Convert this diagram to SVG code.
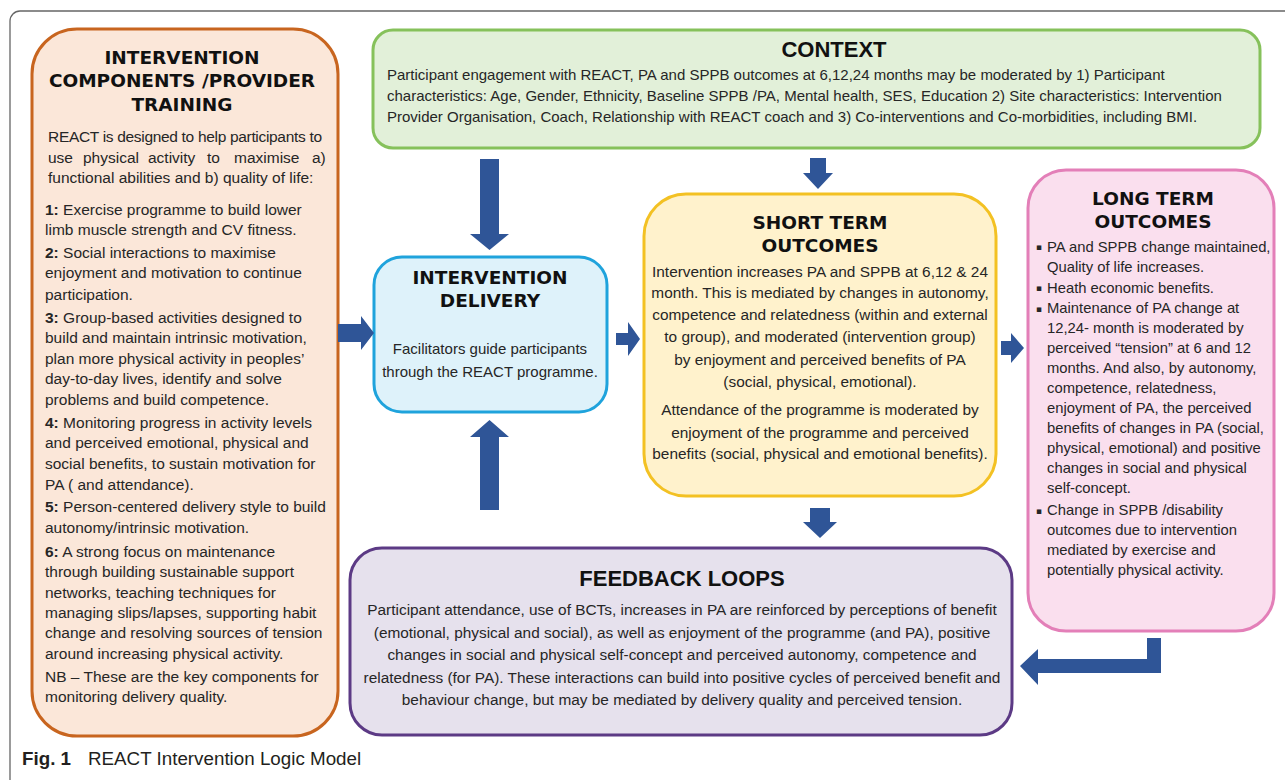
<svg xmlns="http://www.w3.org/2000/svg" width="1285" height="780" viewBox="0 0 1285 780">
<style>
.ttl{font-family:"DejaVu Sans",Verdana,sans-serif;font-weight:bold;font-size:18.5px;text-anchor:middle;fill:#111}
.ttl2{font-family:"Liberation Sans",Arial,sans-serif;font-weight:bold;font-size:22px;text-anchor:middle;fill:#111}
.b{font-family:"Liberation Sans",Arial,sans-serif;font-size:15.4px;fill:#262626}
.c{text-anchor:middle}
.bl{font-family:"DejaVu Sans",sans-serif;font-size:9px;fill:#262626}
.arr{fill:#2f5597}
.box{stroke-width:3}
</style>
<rect x="10" y="11" width="1300" height="800" rx="10" fill="#fff" stroke="#666" stroke-width="1.3"/>

<g id="components">
<rect class="box" x="32" y="29" width="306" height="707" rx="45" fill="#fbe7d9" stroke="#c8651f"/>
<text class="ttl" x="182" y="64">INTERVENTION</text>
<text class="ttl" x="182" y="87">COMPONENTS /PROVIDER</text>
<text class="ttl" x="182" y="111">TRAINING</text>
<g class="b" style="font-size:15.5px">
<text x="48" y="142" textLength="274" lengthAdjust="spacing">REACT is designed to help participants to</text>
<text y="163"><tspan x="48">use</tspan><tspan x="83">physical</tspan><tspan x="148">activity</tspan><tspan x="207">to</tspan><tspan x="234">maximise</tspan><tspan x="312">a)</tspan></text>
<text x="48" y="183">functional abilities and b) quality of life:</text>
<text x="45" y="215"><tspan font-weight="bold">1:</tspan> Exercise programme to build lower</text>
<text x="45" y="235">limb muscle strength and CV fitness.</text>
<text x="45" y="258"><tspan font-weight="bold">2:</tspan> Social interactions to maximise</text>
<text x="45" y="278">enjoyment and motivation to continue</text>
<text x="45" y="300">participation.</text>
<text x="45" y="323"><tspan font-weight="bold">3:</tspan> Group-based activities designed to</text>
<text x="45" y="343">build and maintain intrinsic motivation,</text>
<text x="45" y="364">plan more physical activity in peoples’</text>
<text x="45" y="384">day-to-day lives, identify and solve</text>
<text x="45" y="405">problems and build competence.</text>
<text x="45" y="428"><tspan font-weight="bold">4:</tspan> Monitoring progress in activity levels</text>
<text x="45" y="448">and perceived emotional, physical and</text>
<text x="45" y="469">social benefits, to sustain motivation for</text>
<text x="45" y="490">PA ( and attendance).</text>
<text x="45" y="512"><tspan font-weight="bold">5:</tspan> Person-centered delivery style to build</text>
<text x="45" y="533">autonomy/intrinsic motivation.</text>
<text x="45" y="557"><tspan font-weight="bold">6:</tspan> A strong focus on maintenance</text>
<text x="45" y="577">through building sustainable support</text>
<text x="45" y="598">networks, teaching techniques for</text>
<text x="45" y="618">managing slips/lapses, supporting habit</text>
<text x="45" y="638">change and resolving sources of tension</text>
<text x="45" y="659">around increasing physical activity.</text>
<text x="45" y="682">NB – These are the key components for</text>
<text x="45" y="702">monitoring delivery quality.</text>
</g>
</g>

<g id="context">
<rect class="box" x="373" y="30" width="887" height="118" rx="20" fill="#e2f0d9" stroke="#86c15b"/>
<text class="ttl2" x="834" y="57">CONTEXT</text>
<g class="b" style="font-size:15px">
<text x="387" y="80">Participant engagement with REACT, PA and SPPB outcomes at 6,12,24 months may be moderated by 1) Participant</text>
<text x="387" y="101">characteristics: Age, Gender, Ethnicity, Baseline SPPB /PA, Mental health, SES, Education 2) Site characteristics: Intervention</text>
<text x="387" y="122">Provider Organisation, Coach, Relationship with REACT coach and 3) Co-interventions and Co-morbidities, including BMI.</text>
</g>
</g>

<g id="delivery">
<rect class="box" x="374" y="257" width="233" height="155" rx="28" fill="#def2fa" stroke="#1fa3dc"/>
<text class="ttl" x="490" y="284">INTERVENTION</text>
<text class="ttl" x="490" y="307">DELIVERY</text>
<text class="b c" style="font-size:15px" x="490" y="354">Facilitators guide participants</text>
<text class="b c" style="font-size:15px" x="490" y="377">through the REACT programme.</text>
</g>

<g id="short-term">
<rect class="box" x="644" y="194" width="352" height="302" rx="42" fill="#fff2cc" stroke="#f3c123"/>
<text class="ttl" x="820" y="229">SHORT TERM</text>
<text class="ttl" x="820" y="252">OUTCOMES</text>
<g class="b c">
<text x="820" y="277">Intervention increases PA and SPPB at 6,12 &amp; 24</text>
<text x="820" y="298">month. This is mediated by changes in autonomy,</text>
<text x="820" y="320">competence and relatedness (within and external</text>
<text x="820" y="342">to group), and moderated (intervention group)</text>
<text x="820" y="365">by enjoyment and perceived benefits of PA</text>
<text x="820" y="387">(social, physical, emotional).</text>
<text x="820" y="415">Attendance of the programme is moderated by</text>
<text x="820" y="438">enjoyment of the programme and perceived</text>
<text x="820" y="459">benefits (social, physical and emotional benefits).</text>
</g>
</g>

<g id="long-term">
<rect class="box" x="1028" y="170" width="246" height="461" rx="38" fill="#fadfee" stroke="#e37fb8"/>
<text class="ttl" x="1153" y="205">LONG TERM</text>
<text class="ttl" x="1153" y="228">OUTCOMES</text>
<g class="bl">
<text x="1036" y="250">▪</text>
<text x="1036" y="291">▪</text>
<text x="1036" y="312">▪</text>
<text x="1036" y="514">▪</text>
</g>
<g class="b" style="font-size:14.8px">
<text x="1047" y="252">PA and SPPB change maintained,</text>
<text x="1047" y="272">Quality of life increases.</text>
<text x="1047" y="293">Heath economic benefits.</text>
<text x="1047" y="313">Maintenance of PA change at</text>
<text x="1047" y="333">12,24- month is moderated by</text>
<text x="1047" y="353">perceived “tension” at 6 and 12</text>
<text x="1047" y="373">months. And also, by autonomy,</text>
<text x="1047" y="393">competence, relatedness,</text>
<text x="1047" y="413">enjoyment of PA, the perceived</text>
<text x="1047" y="433">benefits of changes in PA (social,</text>
<text x="1047" y="453">physical, emotional) and positive</text>
<text x="1047" y="473">changes in social and physical</text>
<text x="1047" y="493">self-concept.</text>
<text x="1047" y="515">Change in SPPB /disability</text>
<text x="1047" y="535">outcomes due to intervention</text>
<text x="1047" y="555">mediated by exercise and</text>
<text x="1047" y="575">potentially physical activity.</text>
</g>
</g>

<g id="feedback">
<rect class="box" x="350" y="548" width="662" height="187" rx="32" fill="#e6e1ed" stroke="#5c3a85"/>
<text class="ttl2" x="682" y="586">FEEDBACK LOOPS</text>
<g class="b c">
<text x="682" y="615">Participant attendance, use of BCTs, increases in PA are reinforced by perceptions of benefit</text>
<text x="682" y="638">(emotional, physical and social), as well as enjoyment of the programme (and PA), positive</text>
<text x="682" y="660">changes in social and physical self-concept and perceived autonomy, competence and</text>
<text x="682" y="683">relatedness (for PA). These interactions can build into positive cycles of perceived benefit and</text>
<text x="682" y="705">behaviour change, but may be mediated by delivery quality and perceived tension.</text>
</g>
</g>

<g id="connectors">
<polygon class="arr" points="480,159 499,159 499,234 509,234 489.5,250 470,234 480,234"/>
<polygon class="arr" points="489.5,420 509,437 499,437 499,510 480,510 480,437 470,437"/>
<polygon class="arr" points="338,324 361,324 361,316 374,333 361,350 361,342 338,342"/>
<polygon class="arr" points="616,333 628,333 628,322 640,339 628,356 628,345 616,345"/>
<polygon class="arr" points="810,158 826,158 826,173 833,173 818,189 803,173 810,173"/>
<polygon class="arr" points="810,508 830,508 830,522 837,522 820,538 803,522 810,522"/>
<polygon class="arr" points="1001,341 1011,341 1011,333 1024,348 1011,363 1011,355 1001,355"/>
<polygon class="arr" points="1147,638 1161,638 1161,673 1038,673 1038,685 1020,666 1038,649 1038,659 1147,659"/>
</g>

<g id="caption">
<text x="22" y="765" style="font-family:'Liberation Sans',Arial,sans-serif;font-size:18.8px;fill:#231f20"><tspan font-weight="bold">Fig. 1</tspan><tspan x="88">REACT Intervention Logic Model</tspan></text>
</g>
</svg>
